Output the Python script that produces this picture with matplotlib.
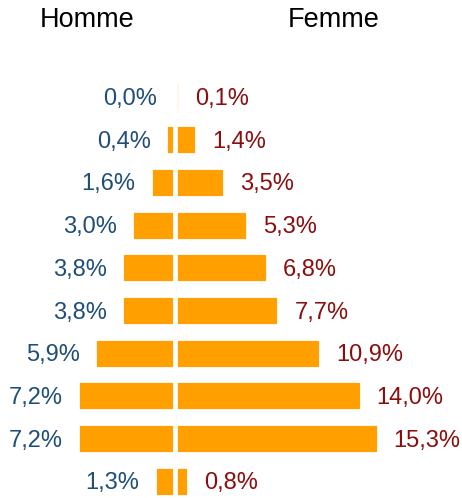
import matplotlib.pyplot as plt

# Valeurs (haut -> bas)
homme = [0.0, 0.4, 1.6, 3.0, 3.8, 3.8, 5.9, 7.2, 7.2, 1.3]
femme = [0.1, 1.4, 3.5, 5.3, 6.8, 7.7, 10.9, 14.0, 15.3, 0.8]
titres = ["Homme", "Femme"]

plt.rcParams['font.family'] = ['Liberation Sans', 'DejaVu Sans']

orange = "#FF9F00"
bleu = "#1F4E79"
rouge = "#8B0E0E"

W, H = 462, 498
px = 13.05          # pixels par point de %
pitch = 42.7        # pixels entre les lignes
cx = 174.75         # centre en pixels
gap = 2.25 / px     # demi-écart entre les barres

fig = plt.figure(figsize=(W / 100, H / 100), dpi=100)
ax = fig.add_axes([0, 0, 1, 1])
ax.set_xlim(-cx / px, (W - cx) / px)
ax.set_ylim((H - 97) / pitch, -97 / pitch)
ax.axis('off')

rows = list(range(len(homme)))
ax.barh(rows, [-v for v in homme], left=-gap, height=0.63, color=orange,
        edgecolor='white', linewidth=0.6)
ax.barh(rows, femme, left=gap, height=0.63, color=orange,
        edgecolor='white', linewidth=0.6)

dy = 8 / pitch
for i, (h, f) in enumerate(zip(homme, femme)):
    ax.text(-gap - h - 16 / px, i + dy, f"{h:.1f}%".replace('.', ','),
            ha='right', va='baseline', fontsize=17, color=bleu)
    ax.text(gap + f + 17 / px, i + dy, f"{f:.1f}%".replace('.', ','),
            ha='left', va='baseline', fontsize=17, color=rouge)

ty = (27.3 - 97) / pitch
ax.text((87 - cx) / px, ty, titres[0], ha='center', va='baseline', fontsize=19.5, color='black')
ax.text((334 - cx) / px, ty, titres[1], ha='center', va='baseline', fontsize=19.5, color='black')

plt.savefig("out.png", dpi=100)
